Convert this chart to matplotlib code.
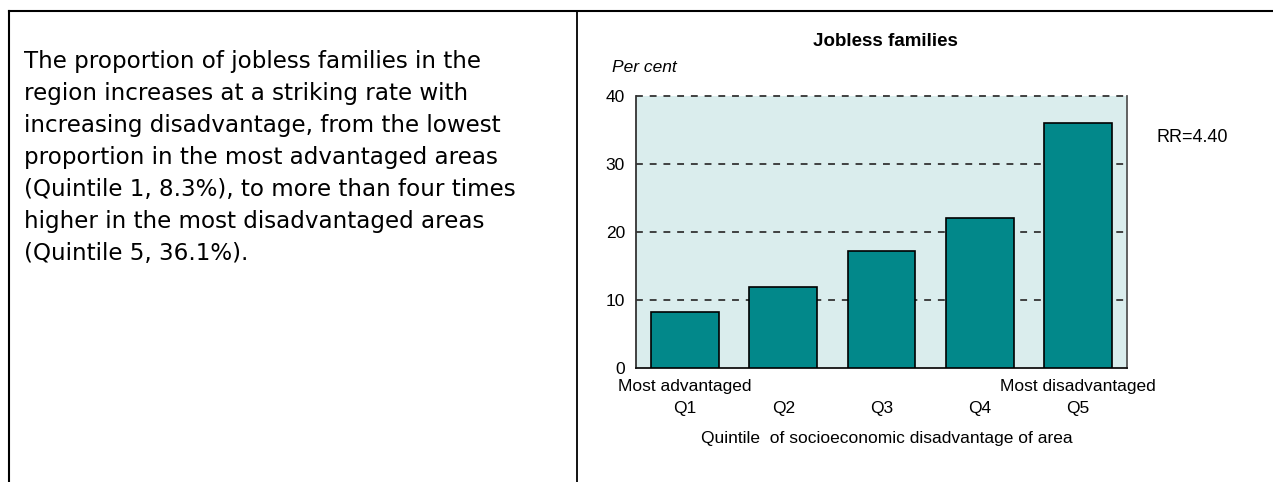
import matplotlib.pyplot as plt
from matplotlib.lines import Line2D

# --- Data ---
quintiles = ["Q1", "Q2", "Q3", "Q4", "Q5"]
jobless_pct = [8.3, 11.9, 17.2, 22.1, 36.1]
y_ticks = [0, 10, 20, 30, 40]
rate_ratio = "RR=4.40"

BODY = ("The proportion of jobless families in the\n"
        "region increases at a striking rate with\n"
        "increasing disadvantage, from the lowest\n"
        "proportion in the most advantaged areas\n"
        "(Quintile 1, 8.3%), to more than four times\n"
        "higher in the most disadvantaged areas\n"
        "(Quintile 5, 36.1%).")

W, H = 1273, 482
CHART_FONT = "Liberation Sans"
FS = 12.5


def fy(py):
    """pixel row (from top) -> figure fraction"""
    return 1 - py / H


fig = plt.figure(figsize=(W / 100, H / 100), dpi=100)
fig.patch.set_facecolor("white")

# frame lines (table-like layout)
fig.add_artist(Line2D([9 / W, 1], [fy(11), fy(11)], color="black", lw=1.5, transform=fig.transFigure))
fig.add_artist(Line2D([9 / W, 9 / W], [0, fy(11)], color="black", lw=1.5, transform=fig.transFigure))
fig.add_artist(Line2D([577 / W, 577 / W], [0, fy(11)], color="black", lw=1.3, transform=fig.transFigure))

# left-hand commentary
fig.text(24 / W, fy(50), BODY, ha="left", va="top", fontsize=16.6,
         family="DejaVu Sans", linespacing=1.5, color="black")

# --- Chart ---
ax = fig.add_axes([636 / W, fy(368), (1127 - 636) / W, (368 - 96) / H])
ax.set_facecolor("#daeded")
x = list(range(len(quintiles)))
ax.bar(x, jobless_pct, width=0.69, color="#02888a", edgecolor="black", linewidth=1.2, zorder=3)

ax.set_xlim(-0.5, 4.5)
ax.set_ylim(0, 40)
ax.set_yticks(y_ticks)
ax.set_yticklabels([str(t) for t in y_ticks], family=CHART_FONT, fontsize=FS)
ax.set_xticks(x)
ax.set_xticklabels(quintiles, family=CHART_FONT, fontsize=FS)
ax.tick_params(axis="x", length=0, pad=24)
ax.tick_params(axis="y", length=0, pad=8)
for t in y_ticks[1:]:
    ax.axhline(t, color="#333333", lw=1.3, ls=(0, (3.8, 3.8)), zorder=2, clip_on=False)
ax.spines["top"].set_visible(False)
ax.spines["left"].set_color("#333333")
ax.spines["right"].set_color("#555555")
ax.spines["bottom"].set_color("#111111")
for s in ("left", "right", "bottom"):
    ax.spines[s].set_linewidth(1.3)

fig.text(885 / W, fy(42), "Jobless families", ha="center", va="center",
         fontsize=13.5, fontweight="bold", family=CHART_FONT)
ax.text(612 / W, fy(68), "Per cent", transform=fig.transFigure, style="italic",
        fontsize=FS, family=CHART_FONT, ha="left", va="center")
fig.text(1157 / W, fy(138), rate_ratio, fontsize=13, family=CHART_FONT,
         ha="left", va="center")

below = -19 / 272
ax.text(x[0], below, "Most advantaged", transform=ax.get_xaxis_transform(),
        fontsize=FS, family=CHART_FONT, ha="center", va="center")
ax.text(x[-1], below, "Most disadvantaged", transform=ax.get_xaxis_transform(),
        fontsize=FS, family=CHART_FONT, ha="center", va="center")

ax.set_xlabel("Quintile  of socioeconomic disadvantage of area",
              family=CHART_FONT, fontsize=FS)
ax.xaxis.set_label_coords(0.51, -71 / 272)
ax.xaxis.label.set_va("center")

fig.savefig("out.png", dpi=100)
